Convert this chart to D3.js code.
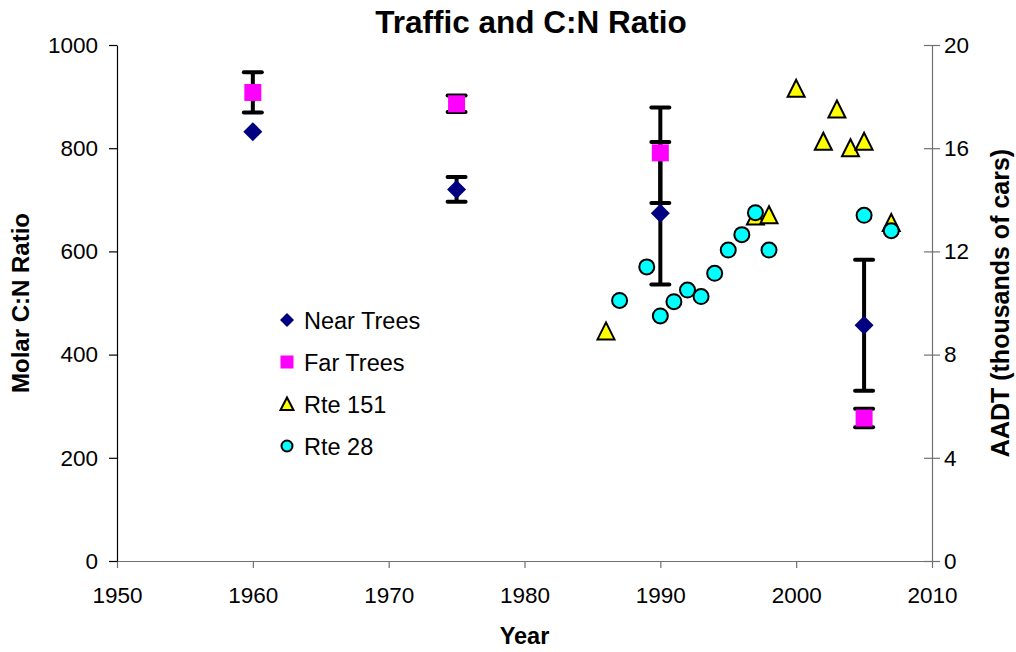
<!DOCTYPE html>
<html>
<head>
<meta charset="utf-8">
<script src="https://cdn.jsdelivr.net/npm/d3@7"></script>
<style>
  body { margin: 0; background: #fff; }
  text { font-family: "Liberation Sans", Arial, sans-serif; }
</style>
</head>
<body>
<div id="chart"></div>
<script>
// tree samples (left axis, molar C:N)
const treeYears = [1960, 1975, 1990, 2005];
const nearCN = [832, 720, 674, 457];
const nearErrPlus = [0, 24, 138, 127];
const nearErrMinus = [0, 24, 138, 127];
const farCN = [908, 886, 791, 277];
const farErrPlus = [39, 16, 88, 18];
const farErrMinus = [39, 16, 97, 18];

// traffic counts (right axis, thousands of cars)
const rte151Years = [1986, 1997, 1998, 2000, 2002, 2003, 2004, 2005, 2007];
const rte151AADT = [8.9, 13.35, 13.4, 18.3, 16.25, 17.5, 16.0, 16.25, 13.1];
const rte28Years = [1987, 1989, 1990, 1991, 1992, 1993, 1994, 1995, 1996, 1997, 1998, 2005, 2007];
const rte28AADT = [10.1, 11.4, 9.5, 10.05, 10.5, 10.25, 11.15, 12.05, 12.65, 13.5, 12.05, 13.4, 12.8];

const xTicks = [1950, 1960, 1970, 1980, 1990, 2000, 2010];
const leftTicks = [0, 200, 400, 600, 800, 1000];
const rightTicks = [0, 4, 8, 12, 16, 20];

const width = 1016;
const height = 652;
const margin = { top: 45, right: 84, bottom: 91, left: 117 };

const svg = d3
  .select("#chart")
  .append("svg")
  .attr("width", width)
  .attr("height", height);

const x = d3.scaleLinear().domain([1950, 2010]).range([margin.left, width - margin.right]);
const yL = d3.scaleLinear().domain([0, 1000]).range([height - margin.bottom, margin.top]);
const yR = d3.scaleLinear().domain([0, 20]).range([height - margin.bottom, margin.top]);

// axes
const xAxis = svg
  .append("g")
  .attr("transform", `translate(0,${height - margin.bottom})`)
  .call(d3.axisBottom(x).tickValues(xTicks).tickFormat(d3.format("d")).tickSize(7).tickSizeOuter(0).tickPadding(19));

const leftAxis = svg
  .append("g")
  .attr("transform", `translate(${margin.left},0)`)
  .call(d3.axisLeft(yL).tickValues(leftTicks).tickFormat(d3.format("d")).tickSize(8).tickSizeOuter(0).tickPadding(11));

const rightAxis = svg
  .append("g")
  .attr("transform", `translate(${width - margin.right},0)`)
  .call(d3.axisRight(yR).tickValues(rightTicks).tickSize(8).tickSizeOuter(0).tickPadding(4));

// right axis ticks cross the line
rightAxis.selectAll(".tick line").attr("x1", -8);

[xAxis, leftAxis, rightAxis].forEach((g) => {
  g.selectAll("text").style("font-size", "22.5px").attr("fill", "#000");
  g.selectAll("line, path").attr("stroke-width", 1.2);
});
leftAxis.selectAll("line, path").attr("stroke", "#000");
xAxis.selectAll("line, path").attr("stroke", "#707070");
rightAxis.selectAll("line, path").attr("stroke", "#707070");

// titles
svg
  .append("text")
  .attr("x", 531)
  .attr("y", 33)
  .attr("text-anchor", "middle")
  .style("font-size", "31.5px")
  .style("font-weight", "bold")
  .text("Traffic and C:N Ratio");

svg
  .append("text")
  .attr("x", (margin.left + width - margin.right) / 2)
  .attr("y", 644)
  .attr("text-anchor", "middle")
  .style("font-size", "23.5px")
  .style("font-weight", "bold")
  .text("Year");

svg
  .append("text")
  .attr("transform", `translate(29,${yL(500)}) rotate(-90)`)
  .attr("text-anchor", "middle")
  .style("font-size", "24px")
  .style("font-weight", "bold")
  .text("Molar C:N Ratio");

svg
  .append("text")
  .attr("transform", `translate(1009,${yL(500)}) rotate(-90)`)
  .attr("text-anchor", "middle")
  .style("font-size", "25px")
  .style("font-weight", "bold")
  .text("AADT (thousands of cars)");

// build rows
const near = treeYears.map((yr, i) => ({ year: yr, v: nearCN[i], plus: nearErrPlus[i], minus: nearErrMinus[i] }));
const far = treeYears.map((yr, i) => ({ year: yr, v: farCN[i], plus: farErrPlus[i], minus: farErrMinus[i] }));
const r151 = rte151Years.map((yr, i) => ({ year: yr, v: rte151AADT[i] }));
const r28 = rte28Years.map((yr, i) => ({ year: yr, v: rte28AADT[i] }));

// error bars
const capW = 9;
function errorBars(data) {
  const g = svg.append("g").attr("stroke", "#000").attr("stroke-width", 4);
  data
    .filter((d) => d.plus > 0 || d.minus > 0)
    .forEach((d) => {
      const cx = x(d.year);
      const top = yL(d.v + d.plus);
      const bot = yL(d.v - d.minus);
      g.append("line").attr("x1", cx).attr("x2", cx).attr("y1", top).attr("y2", bot);
      g.append("line").attr("x1", cx - capW).attr("x2", cx + capW).attr("y1", top).attr("y2", top).attr("stroke-linecap", "round");
      g.append("line").attr("x1", cx - capW).attr("x2", cx + capW).attr("y1", bot).attr("y2", bot).attr("stroke-linecap", "round");
    });
}
errorBars(near);
errorBars(far);

// markers
const diamond = "M0,-9.5L9.5,0L0,9.5L-9.5,0Z";
const square = "M-8.5,-8.5H8.5V8.5H-8.5Z";
const triangle = "M0,-9L8.5,8L-8.5,8Z";

svg
  .append("g")
  .selectAll("path")
  .data(near)
  .join("path")
  .attr("d", diamond)
  .attr("transform", (d) => `translate(${x(d.year)},${yL(d.v)})`)
  .attr("fill", "#000080");

svg
  .append("g")
  .selectAll("path")
  .data(far)
  .join("path")
  .attr("d", square)
  .attr("transform", (d) => `translate(${x(d.year)},${yL(d.v)})`)
  .attr("fill", "#ff00ff");

svg
  .append("g")
  .selectAll("path")
  .data(r151)
  .join("path")
  .attr("d", triangle)
  .attr("transform", (d) => `translate(${x(d.year)},${yR(d.v)})`)
  .attr("fill", "#ffff00")
  .attr("stroke", "#000")
  .attr("stroke-width", 2)
  .attr("stroke-linejoin", "miter");

svg
  .append("g")
  .selectAll("circle")
  .data(r28)
  .join("circle")
  .attr("cx", (d) => x(d.year))
  .attr("cy", (d) => yR(d.v))
  .attr("r", 7.5)
  .attr("fill", "#00ffff")
  .attr("stroke", "#000")
  .attr("stroke-width", 2);

// legend
const legendItems = [
  { label: "Near Trees", shape: "M0,-7L7,0L0,7L-7,0Z", fill: "#000080", stroke: "none" },
  { label: "Far Trees", shape: "M-6.5,-6.5H6.5V6.5H-6.5Z", fill: "#ff00ff", stroke: "none" },
  { label: "Rte 151", shape: "M0,-6.5L6.5,6L-6.5,6Z", fill: "#ffff00", stroke: "#000" },
  { label: "Rte 28", shape: null, fill: "#00ffff", stroke: "#000" },
];

const legend = svg
  .append("g")
  .selectAll("g")
  .data(legendItems)
  .join("g")
  .attr("transform", (d, i) => `translate(287,${320 + i * 42})`);

legend.each(function (d) {
  const g = d3.select(this);
  if (d.shape) {
    g.append("path").attr("d", d.shape).attr("fill", d.fill).attr("stroke", d.stroke).attr("stroke-width", 2);
  } else {
    g.append("circle").attr("r", 5.5).attr("fill", d.fill).attr("stroke", d.stroke).attr("stroke-width", 2);
  }
  g.append("text")
    .attr("x", 17)
    .attr("y", 8.5)
    .style("font-size", "23.5px")
    .text(d.label);
});
</script>
</body>
</html>
